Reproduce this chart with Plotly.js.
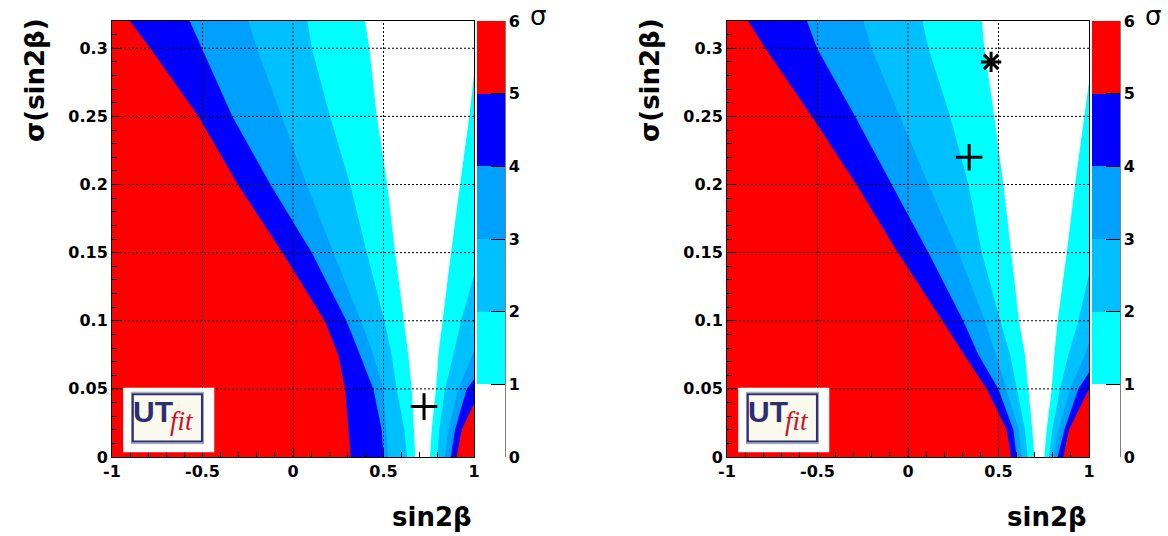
<!DOCTYPE html>
<html><head><meta charset="utf-8">
<script src="https://cdn.plot.ly/plotly-3.0.1.min.js"></script>
<style>html,body{margin:0;padding:0;background:#fff}</style>
</head><body><div id="chart" style="width:1168px;height:536px"></div>
<script>
// ---------------- DATA ----------------
// sigma(sin2beta) levels at which the left-hand contour boundaries were read
const Y_LEVELS = [0, 0.02, 0.05, 0.075, 0.1, 0.15, 0.2, 0.25, 0.3, 0.32];

// Panel 1: sin2beta position of the n-sigma boundaries on the left side
const p1_left1 = [0.675, 0.668, 0.656, 0.637, 0.612, 0.564, 0.521, 0.463, 0.422, 0.398];
const p1_left2 = [0.630, 0.615, 0.573, 0.545, 0.505, 0.408, 0.316, 0.205, 0.104, 0.080];
const p1_left3 = [0.525, 0.515, 0.499, 0.444, 0.375, 0.224, 0.076, -0.062, -0.200, -0.246];
const p1_left4 = [0.499, 0.490, 0.444, 0.370, 0.295, 0.104, -0.125, -0.335, -0.503, -0.571];
const p1_left5 = [0.319, 0.306, 0.288, 0.250, 0.175, -0.058, -0.305, -0.522, -0.788, -0.902];
// Panel 1: right side boundaries (x, y)
const p1_right1_x = [0.757, 0.766, 0.790, 0.803, 0.825, 0.873, 0.923, 0.974, 1.0];
const p1_right1_y = [0, 0.02, 0.05, 0.075, 0.1, 0.15, 0.2, 0.25, 0.28];
const p1_right2_x = [0.797, 0.808, 0.840, 0.886, 0.928, 1.0];
const p1_right2_y = [0, 0.02, 0.05, 0.075, 0.1, 0.133];
const p1_right3_x = [0.840, 0.858, 0.913, 1.0];
const p1_right3_y = [0, 0.02, 0.05, 0.078];
const p1_right4_x = [0.871, 0.895, 0.960, 1.0];
const p1_right4_y = [0, 0.02, 0.05, 0.057];
const p1_right5_x = [0.904, 0.932, 1.0];
const p1_right5_y = [0, 0.02, 0.039];

// Panel 2
const p2_left1 = [0.698, 0.687, 0.665, 0.646, 0.613, 0.569, 0.527, 0.477, 0.422, 0.408];
const p2_left2 = [0.661, 0.646, 0.600, 0.564, 0.510, 0.408, 0.334, 0.233, 0.113, 0.080];
const p2_left3 = [0.628, 0.613, 0.545, 0.485, 0.425, 0.279, 0.113, -0.043, -0.203, -0.246];
const p2_left4 = [0.600, 0.582, 0.499, 0.389, 0.305, 0.113, -0.089, -0.292, -0.503, -0.558];
const p2_left5 = [0.569, 0.545, 0.435, 0.310, 0.190, -0.056, -0.285, -0.531, -0.788, -0.884];
const p2_right1_x = [0.753, 0.766, 0.794, 0.808, 0.827, 0.877, 0.923, 0.974, 1.0];
const p2_right1_y = [0, 0.02, 0.05, 0.075, 0.1, 0.15, 0.2, 0.25, 0.275];
const p2_right2_x = [0.779, 0.797, 0.840, 0.886, 0.941, 1.0];
const p2_right2_y = [0, 0.02, 0.05, 0.075, 0.1, 0.134];
const p2_right3_x = [0.803, 0.831, 0.895, 0.978, 1.0];
const p2_right3_y = [0, 0.02, 0.05, 0.075, 0.084];
const p2_right4_x = [0.827, 0.864, 0.941, 1.0];
const p2_right4_y = [0, 0.02, 0.05, 0.062];
const p2_right5_x = [0.858, 0.890, 1.0];
const p2_right5_y = [0, 0.02, 0.05];

// measured points
const p1_plus_x = [0.724], p1_plus_y = [0.037];
const p2_plus_x = [0.338], p2_plus_y = [0.220];
const p2_star_x = [0.459], p2_star_y = [0.290];

// colour bands (1-2, 2-3, 3-4, 4-5, 5-6 sigma)
const bandColors = ['#00ffff', '#00c0ff', '#00a0ff', '#0000ff', '#ff0000'];
const bandValues = [1.5, 2.5, 3.5, 4.5, 5.5];
const cbTickVals = [0, 1, 2, 3, 4, 5, 6];
const cbTickText = ['0', '1', '2', '3', '4', '5', '6'];
const xTickVals = [-1, -0.5, 0, 0.5, 1];
const xTickText = ['-1', '-0.5', '0', '0.5', '1'];
const yTickVals = [0, 0.05, 0.1, 0.15, 0.2, 0.25, 0.3];
const yTickText = ['0', '0.05', '0.1', '0.15', '0.2', '0.25', '0.3'];
const xGrid = [-0.5, 0, 0.5];
const yGrid = [0.05, 0.1, 0.15, 0.2, 0.25, 0.3];

// ---------------- BUILD ----------------
const X_MIN = -1, X_MAX = 1, Y_MAX = 0.32;
const W = 1168, H = 536;
const colorscale = [
  [0, '#ffffff'], [1/6, '#ffffff'],
  [1/6, bandColors[0]], [2/6, bandColors[0]],
  [2/6, bandColors[1]], [3/6, bandColors[1]],
  [3/6, bandColors[2]], [4/6, bandColors[2]],
  [4/6, bandColors[3]], [5/6, bandColors[3]],
  [5/6, bandColors[4]], [1, bandColors[4]]
];
const boldFont = (size) => ({family: 'DejaVu Sans', size: size, color: '#000', weight: 'bold'});

function leftBand(bx, i, xa, ya, cbX) {
  const x = [X_MIN].concat(bx, [X_MIN]);
  const y = [0].concat(Y_LEVELS, [Y_MAX]);
  const t = {type: 'scatter', x: x, y: y, xaxis: xa, yaxis: ya, fill: 'toself',
    fillcolor: bandColors[i], mode: 'lines', line: {width: 0, color: bandColors[i]},
    hoverinfo: 'skip', showlegend: false};
  if (cbX !== undefined) {
    t.mode = 'lines+markers';
    t.marker = {size: 1, opacity: 0, color: x.map(() => bandValues[i]), cmin: 0, cmax: 6,
      colorscale: colorscale, showscale: true,
      colorbar: {x: cbX / W, xanchor: 'left', y: 1 - 457 / H, yanchor: 'bottom',
        len: 436, lenmode: 'pixels', thickness: 28, thicknessmode: 'pixels',
        outlinewidth: 0, xpad: 0, ypad: 0, tickmode: 'array', tickvals: cbTickVals,
        ticktext: cbTickText, ticks: 'inside', ticklen: 14, tickcolor: '#000', tickwidth: 1,
        tickfont: boldFont(16)}};
  }
  return t;
}
function rightBand(bx, by, i, xa, ya) {
  return {type: 'scatter', x: [X_MAX].concat(bx), y: [0].concat(by), xaxis: xa, yaxis: ya,
    fill: 'toself', fillcolor: bandColors[i], mode: 'lines',
    line: {width: 0, color: bandColors[i]}, hoverinfo: 'skip', showlegend: false};
}
function markerTrace(x, y, symbol, size, xa, ya) {
  return {type: 'scatter', x: x, y: y, xaxis: xa, yaxis: ya, mode: 'markers',
    marker: {symbol: symbol, size: size, color: '#000', line: {width: 3, color: '#000'}},
    hoverinfo: 'skip', showlegend: false};
}

const traces = [];
[[p1_left1, p1_left2, p1_left3, p1_left4, p1_left5], [p2_left1, p2_left2, p2_left3, p2_left4, p2_left5]]
  .forEach((L, p) => {
    const xa = p === 0 ? 'x' : 'x2', ya = p === 0 ? 'y' : 'y2';
    L.forEach((bx, i) => traces.push(leftBand(bx, i, xa, ya, i === 4 ? (p === 0 ? 477 : 1092) : undefined)));
  });
[[[p1_right1_x, p1_right1_y], [p1_right2_x, p1_right2_y], [p1_right3_x, p1_right3_y], [p1_right4_x, p1_right4_y], [p1_right5_x, p1_right5_y]],
 [[p2_right1_x, p2_right1_y], [p2_right2_x, p2_right2_y], [p2_right3_x, p2_right3_y], [p2_right4_x, p2_right4_y], [p2_right5_x, p2_right5_y]]]
  .forEach((R, p) => {
    const xa = p === 0 ? 'x' : 'x2', ya = p === 0 ? 'y' : 'y2';
    R.forEach((b, i) => traces.push(rightBand(b[0], b[1], i, xa, ya)));
  });
traces.push(markerTrace(p1_plus_x, p1_plus_y, 'cross-thin', 19, 'x', 'y'));
traces.push(markerTrace(p2_plus_x, p2_plus_y, 'cross-thin', 19, 'x2', 'y2'));
traces.push(markerTrace(p2_star_x, p2_star_y, 'asterisk', 17, 'x2', 'y2'));

const yDom = [1 - 457 / H, 1 - 21 / H];
function xAxis(dom, anchor) {
  return {domain: dom, anchor: anchor, range: [X_MIN, X_MAX], showgrid: false, zeroline: false,
    tickmode: 'array', tickvals: xTickVals, ticktext: xTickText, ticks: 'inside', ticklen: 9,
    tickcolor: '#000', tickwidth: 1, showline: true, mirror: true, linecolor: '#000', linewidth: 1,
    layer: 'above traces', tickfont: boldFont(16),
    minor: {tickmode: 'linear', tick0: 0, dtick: 0.1, ticks: 'inside', ticklen: 5, tickcolor: '#000', showgrid: false}};
}
function yAxis(anchor) {
  return {domain: yDom, anchor: anchor, range: [0, Y_MAX], showgrid: false, zeroline: false,
    tickmode: 'array', tickvals: yTickVals, ticktext: yTickText, ticks: 'inside', ticklen: 9,
    tickcolor: '#000', tickwidth: 1, showline: true, mirror: true, linecolor: '#000', linewidth: 1,
    layer: 'above traces', tickfont: boldFont(16),
    minor: {tickmode: 'linear', tick0: 0, dtick: 0.01, ticks: 'inside', ticklen: 5, tickcolor: '#000', showgrid: false}};
}

const shapes = [];
const annotations = [];
[['x', 'y', 112, 474, 505], ['x2', 'y2', 727, 1089, 1120]].forEach(([xa, ya, px0, px1, cbR]) => {
  xGrid.forEach(v => shapes.push({type: 'line', xref: xa, yref: ya + ' domain', x0: v, x1: v, y0: 0, y1: 1,
    line: {color: '#000', width: 1, dash: '2px,2px'}, layer: 'above'}));
  yGrid.forEach(v => shapes.push({type: 'line', xref: xa + ' domain', yref: ya, x0: 0, x1: 1, y0: v, y1: v,
    line: {color: '#000', width: 1, dash: '2px,2px'}, layer: 'above'}));
  // UTfit logo
  shapes.push({type: 'rect', xref: xa, yref: ya, x0: -0.938, x1: -0.435, y0: 0.0034, y1: 0.0509,
    fillcolor: '#ffffff', line: {width: 0}, layer: 'above'});
  shapes.push({type: 'rect', xref: xa, yref: ya, x0: -0.892, x1: -0.495, y0: 0.0098, y1: 0.0475,
    fillcolor: '#fbf8ec', line: {width: 1, color: '#9a9aa8'}, layer: 'above'});
  shapes.push({type: 'rect', xref: xa, yref: ya, x0: -0.885, x1: -0.503, y0: 0.0113, y1: 0.0460,
    fillcolor: 'rgba(0,0,0,0)', line: {width: 2, color: '#2b2f7a'}, layer: 'above'});
  annotations.push({xref: xa, yref: ya, x: -0.775, y: 0.0335, text: 'UT', showarrow: false,
    font: {family: 'Liberation Sans', size: 30, color: '#2b2f6e', weight: 'bold'}});
  annotations.push({xref: xa, yref: ya, x: -0.612, y: 0.0262, text: 'fit', showarrow: false,
    font: {family: 'Liberation Serif', size: 27, color: '#c8102e', style: 'italic'}});
  // colour bar axis line
  shapes.push({type: 'line', xref: 'paper', yref: 'paper', x0: cbR / W, x1: cbR / W, y0: yDom[0], y1: yDom[1],
    line: {color: '#000', width: 1}});
  // titles
  annotations.push({xref: 'paper', yref: 'paper', x: px1 / W, y: 1 - 517 / H, xanchor: 'right', yanchor: 'middle',
    text: 'sin2β', showarrow: false, font: boldFont(26)});
  annotations.push({xref: 'paper', yref: 'paper', x: (px0 - 77) / W, y: 1 - 80 / H, xanchor: 'center', yanchor: 'middle',
    text: 'σ(sin2β)', textangle: -90, showarrow: false, font: boldFont(26)});
  annotations.push({xref: 'paper', yref: 'paper', x: (cbR + 33) / W, y: 1 - 16 / H, xanchor: 'center', yanchor: 'middle',
    text: 'σ', showarrow: false, font: {family: 'DejaVu Sans', size: 26, color: '#000'}});
});

const layout = {
  width: W, height: H, margin: {l: 0, r: 0, t: 0, b: 0},
  paper_bgcolor: '#ffffff', plot_bgcolor: '#ffffff', showlegend: false,
  xaxis: xAxis([112 / W, 474 / W], 'y'), yaxis: yAxis('x'),
  xaxis2: xAxis([727 / W, 1089 / W], 'y2'), yaxis2: yAxis('x2'),
  shapes: shapes, annotations: annotations
};
Plotly.newPlot('chart', traces, layout, {displayModeBar: false, staticPlot: true});
</script></body></html>
